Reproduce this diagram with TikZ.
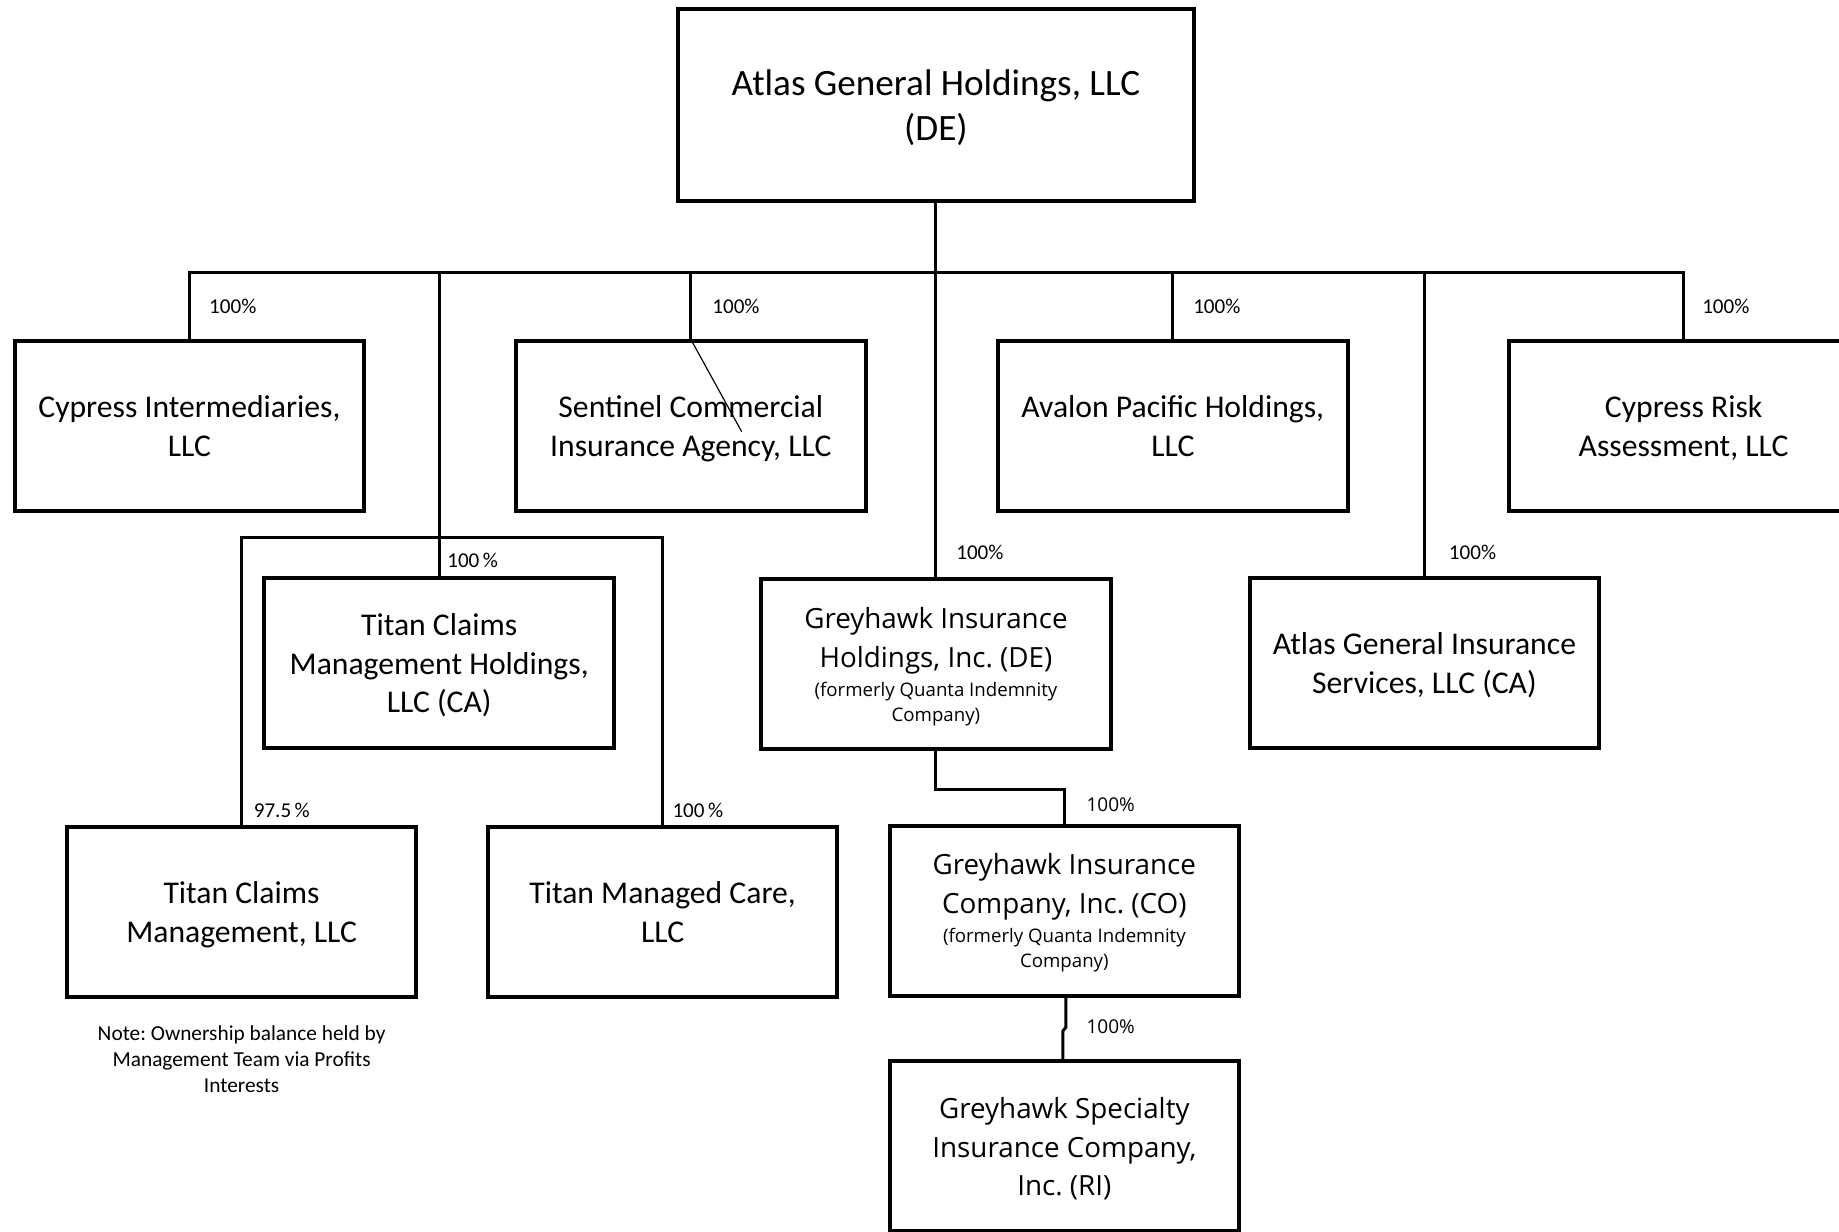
\documentclass[tikz,border=0pt]{standalone}
\usepackage{fontspec}
\setmainfont{Carlito}
\newfontfamily\gfont{Open Sans}
\frenchspacing
\begin{document}
\begin{tikzpicture}[x=0.5pt,y=-0.5pt,
  box/.style={draw, line width=1.7pt, minimum width=149pt, minimum height=72.5pt, align=center, inner sep=0pt, text depth=0pt, font=\fontsize{13.5}{16.5}\selectfont},
  gbox/.style={box, font=\gfont\fontsize{11.85}{16.5}\selectfont},
  conn/.style={line width=1.28pt},
  thin/.style={line width=0.5pt},
  pct/.style={anchor=west, inner sep=0pt, font=\fontsize{9}{11}\selectfont},
  gpct/.style={pct, font=\gfont\fontsize{8.1}{10}\selectfont},
  notetext/.style={align=center, inner sep=0pt, font=\fontsize{9.1}{11}\selectfont}]
\useasboundingbox (0,0) rectangle (1568,1049.6);

% boxes
\node[box, minimum width=220pt, minimum height=81.5pt, font=\fontsize{15.85}{19}\selectfont] (top) at (798,89.5) {Atlas General Holdings, LLC\\(DE)};
\node[box] (cyi) at (161.5,363.5) {Cypress Intermediaries,\\LLC};
\node[box] (sen) at (589,363.5) {Sentinel Commercial\\Insurance Agency, LLC};
\node[box] (ava) at (1000,363.5) {Avalon Pacific Holdings,\\LLC};
\node[box] (cra) at (1435.5,363.5) {Cypress Risk\\Assessment, LLC};
\node[box] (tcmh) at (374.5,565.5) {Titan Claims\\Management Holdings,\\LLC (CA)};
\node[gbox] (ghh) at (798,566.5) {Greyhawk Insurance\\Holdings, Inc. (DE)\\[-4pt]\fontsize{7.95}{10.5}\selectfont (formerly Quanta Indemnity\\[-6pt]\fontsize{7.95}{10.5}\selectfont Company)};
\node[box] (agis) at (1214.5,565.5) {Atlas General Insurance\\Services, LLC (CA)};
\node[box] (tcm) at (206,777.5) {Titan Claims\\Management, LLC};
\node[box] (tmc) at (565,777.5) {Titan Managed Care,\\LLC};
\node[gbox] (gic) at (907.5,776.5) {Greyhawk Insurance\\Company, Inc. (CO)\\[-4pt]\fontsize{7.95}{10.5}\selectfont (formerly Quanta Indemnity\\[-6pt]\fontsize{7.95}{10.5}\selectfont Company)};
\node[gbox] (gsi) at (907.5,977.5) {Greyhawk Specialty\\Insurance Company,\\Inc. (RI)};

\node[notetext] (note) at (206,903) {Note: Ownership balance held by\\Management Team via Profits\\Interests};

% connectors
\coordinate (bus) at (798,232);
\draw[conn] (top.south) -- (ghh.north);
\foreach \n in {cyi,tcmh,sen,ava,agis,cra} \draw[conn] (\n.north) |- (bus);
\coordinate (tbar) at (374.5,458);
\draw[conn] (tcm.north) |- (tbar) -| (tmc.north);
\coordinate (gbar) at (850,673);
\draw[conn] (ghh.south) |- (gbar) -| (gic.north);
\coordinate (j1) at (908.7,876);
\coordinate (j2) at (906.3,879);
\draw[conn] (gic.south -| j1) -- (j1) -- (j2) -- (gsi.north -| j2);
\coordinate (diag) at (632.4,368.1);
\draw[thin] (sen.north) -- (diag);

% labels
\node[pct] (l1) at (178,261) {100\%};
\node[pct] (l2) at (607,261) {100\%};
\node[pct] (l3) at (1017,261) {100\%};
\node[pct] (l4) at (1451,261) {100\%};
\node[pct] (l5) at (381,478) {100\,\%};
\node[pct] (l6) at (815,471) {100\%};
\node[pct] (l7) at (1235,471) {100\%};
\node[pct] (l8) at (216,691) {97.5\,\%};
\node[pct] (l9) at (573,691) {100\,\%};
\node[gpct] (l10) at (926,686) {100\%};
\node[gpct] (l11) at (926,875) {100\%};
\end{tikzpicture}
\end{document}
